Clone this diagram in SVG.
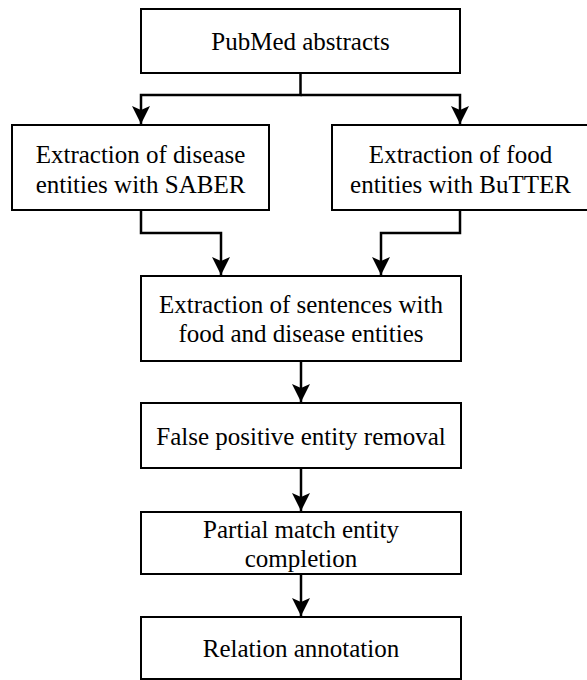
<svg xmlns="http://www.w3.org/2000/svg" width="587" height="680" viewBox="0 0 587 680">
<style>
.box{fill:#fff;stroke:#000;stroke-width:2}
.lbl{font-family:"Liberation Serif","Times New Roman","DejaVu Serif",serif;font-size:25px;fill:#000;text-anchor:middle}
.edge{fill:none;stroke:#000;stroke-width:2.5}
</style>
<defs>
<marker id="arr" markerUnits="userSpaceOnUse" markerWidth="22" markerHeight="22" viewBox="-20 -11 22 22" refX="0" refY="0" orient="auto">
<path d="M0,0 L-18,-9 L-14,0 L-18,9 Z" fill="#000"/>
</marker>
</defs>
<rect width="587" height="680" fill="#fff"/>
<g id="connectors">
<path class="edge" d="M300.5,73 V95 H141 V124" marker-end="url(#arr)"/>
<path class="edge" d="M300.5,95 H460 V124" marker-end="url(#arr)"/>
<path class="edge" d="M141,210 V233 H221 V275" marker-end="url(#arr)"/>
<path class="edge" d="M460,210 V233 H381 V275" marker-end="url(#arr)"/>
<path class="edge" d="M301,361 V402" marker-end="url(#arr)"/>
<path class="edge" d="M301,468 V511" marker-end="url(#arr)"/>
<path class="edge" d="M301,574 V616" marker-end="url(#arr)"/>
</g>
<g id="pubmed">
<rect class="box" x="141" y="9" width="319" height="64"/>
<text class="lbl" x="300.5" y="50">PubMed abstracts</text>
</g>
<g id="disease">
<rect class="box" x="12" y="125" width="257" height="85"/>
<text class="lbl" x="140.5" y="163">Extraction of disease</text>
<text class="lbl" x="140.5" y="193">entities with SABER</text>
</g>
<g id="food">
<rect class="box" x="332" y="125" width="257" height="85"/>
<text class="lbl" x="460.5" y="163">Extraction of food</text>
<text class="lbl" x="460.5" y="193">entities with BuTTER</text>
</g>
<g id="sentences">
<rect class="box" x="141" y="276" width="320" height="85"/>
<text class="lbl" x="301" y="313">Extraction of sentences with</text>
<text class="lbl" x="301" y="342">food and disease entities</text>
</g>
<g id="falsepositive">
<rect class="box" x="141" y="403" width="320" height="65"/>
<text class="lbl" x="301" y="445">False positive entity removal</text>
</g>
<g id="partial">
<rect class="box" x="141" y="512" width="320" height="62"/>
<text class="lbl" x="301" y="538">Partial match entity</text>
<text class="lbl" x="301" y="567">completion</text>
</g>
<g id="relation">
<rect class="box" x="141" y="617" width="320" height="62"/>
<text class="lbl" x="301" y="657">Relation annotation</text>
</g>
</svg>
